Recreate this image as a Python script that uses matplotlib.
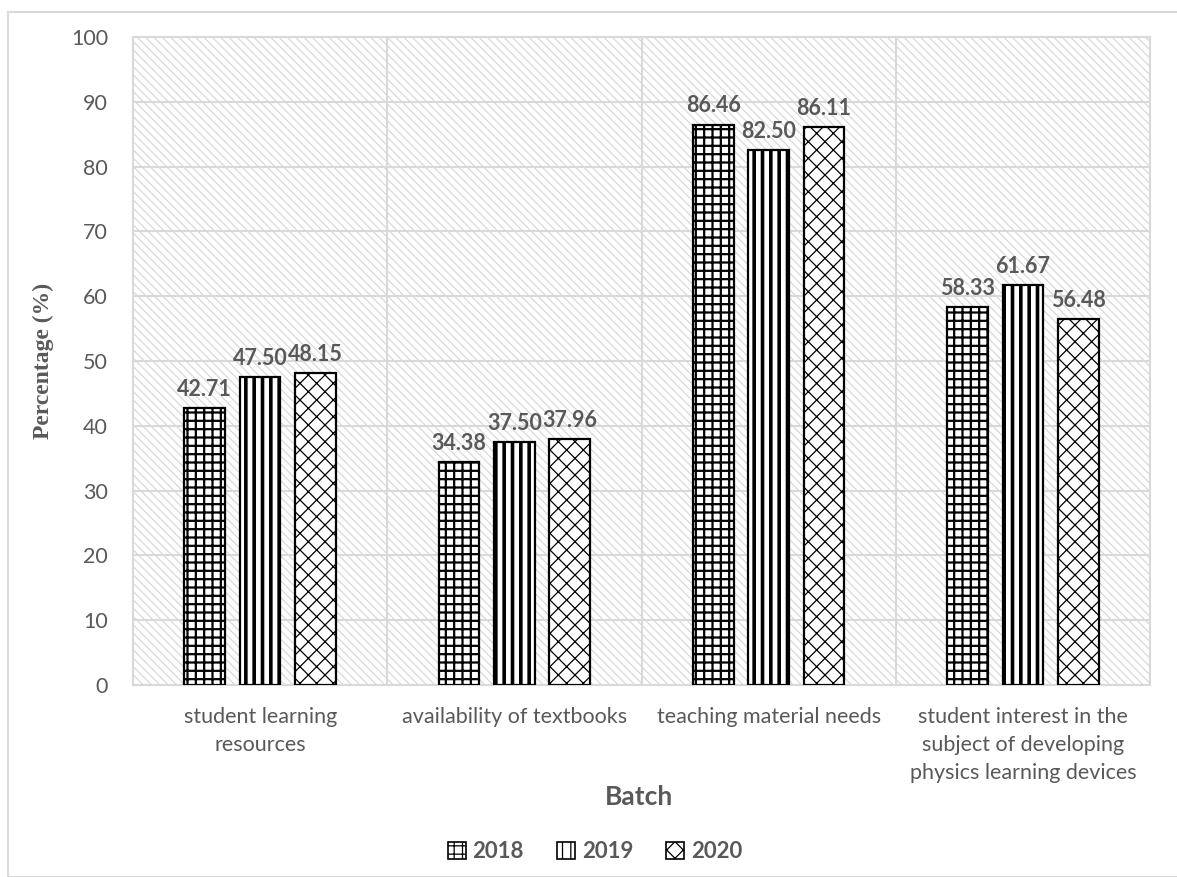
import numpy as np
import matplotlib.pyplot as plt
from matplotlib.patches import Rectangle, Patch

categories = [
    "student learning\nresources",
    "availability of textbooks",
    "teaching material needs",
    "student interest in the\nsubject of developing\nphysics learning devices",
]
years = ["2018", "2019", "2020"]
pct_2018 = [42.71, 34.38, 86.46, 58.33]
pct_2019 = [47.50, 37.50, 82.50, 61.67]
pct_2020 = [48.15, 37.96, 86.11, 56.48]
yticks = list(range(0, 101, 10))

GRAY = "#595959"
LIGHT = "#d9d9d9"
plt.rcParams["font.family"] = ["Lato", "DejaVu Sans"]

fig = plt.figure(figsize=(11.77, 8.77), dpi=100)
W, H = 1177, 877
# outer chart frame
fig.patches.append(Rectangle((8 / W, 0), 1.2, 1 - 12 / H, transform=fig.transFigure,
                             fill=False, edgecolor=LIGHT, linewidth=1.5))

ax = fig.add_axes([133 / W, 1 - 685 / H, (1150 - 133) / W, (685 - 37) / H])

# diagonal hatched plot background
bg = Rectangle((0, 0), 1, 1, transform=ax.transAxes, facecolor="white",
               edgecolor=LIGHT, hatch="\\\\\\\\", linewidth=0, zorder=0)
if hasattr(bg, "set_hatch_linewidth"):
    bg.set_hatch_linewidth(0.9)
ax.add_patch(bg)

x = np.arange(len(categories))
width = 0.16
step = 0.218
series = [(pct_2018, "++", 1.6), (pct_2019, "||", 2.6), (pct_2020, "xx", 0.9)]

handles = []
for i, (vals, hatch, hlw) in enumerate(series):
    plt.rcParams["hatch.linewidth"] = hlw
    bars = ax.bar(x + (i - 1) * step, vals, width, facecolor="white", edgecolor="black",
                  hatch=hatch, linewidth=1.6, zorder=3)
    for b in bars:
        if hasattr(b, "set_hatch_linewidth"):
            b.set_hatch_linewidth(hlw)
    ax.bar_label(bars, labels=[f"{v:.2f}" for v in vals], padding=6,
                 fontsize=15.5, fontweight="bold", color=GRAY)
    handles.append(Patch(facecolor="white", edgecolor="black", hatch=hatch, linewidth=1.2))

ax.set_xlim(-0.5, 3.5)
ax.set_ylim(0, 100)
ax.set_yticks(yticks)
ax.set_xticks(x)
ax.set_xticklabels(categories, fontsize=15.5, color=GRAY, linespacing=1.5)
ax.set_xticks([0.5, 1.5, 2.5], minor=True)
ax.tick_params(axis="both", which="both", length=0)
ax.tick_params(axis="y", labelsize=15.5, labelcolor=GRAY, pad=18)
ax.tick_params(axis="x", pad=16)
ax.grid(axis="y", which="major", color=LIGHT, linewidth=1.5, zorder=1)
ax.grid(axis="x", which="minor", color=LIGHT, linewidth=1.5, zorder=1)
ax.grid(axis="x", which="major", visible=False)
ax.set_axisbelow(True)
for s in ax.spines.values():
    s.set_color(LIGHT)
    s.set_linewidth(1.5)

ax.set_ylabel("Percentage (%)", fontsize=17, fontweight="bold", color=GRAY,
              family="Liberation Serif", labelpad=12)
fig.text(639 / W, 1 - 797 / H, "Batch", ha="center", va="center",
         fontsize=19, fontweight="bold", color=GRAY)

fig.legend(handles, years, loc="center", bbox_to_anchor=(595 / W, 1 - 852 / H),
           ncol=3, frameon=False, handlelength=0.8, handleheight=0.8,
           handletextpad=0.3, columnspacing=1.5,
           prop={"weight": "bold", "size": 16}, labelcolor=GRAY)

fig.savefig("out.png", dpi=100)
